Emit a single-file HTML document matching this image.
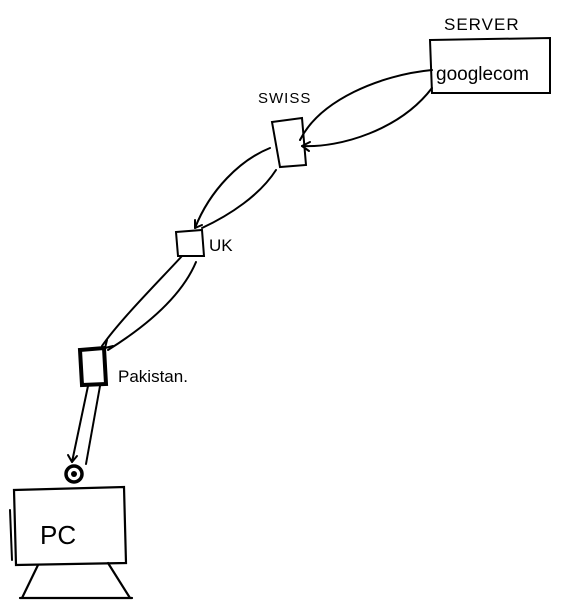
<!DOCTYPE html>
<html><head><meta charset="utf-8"><style>
html,body{margin:0;padding:0;background:#fff;}
svg{display:block;}
text{font-family:"Liberation Sans",sans-serif;fill:#000;}
</style></head><body>
<svg width="572" height="606" viewBox="0 0 572 606" xmlns="http://www.w3.org/2000/svg" fill="none" stroke="#000" stroke-width="2" stroke-linecap="round">
<!-- server -->
<text x="444" y="30" font-size="17" stroke="none" letter-spacing="1">SERVER</text>
<path d="M430 40 L550 38 L550 93 L432 93 Z"/>
<text x="436" y="80" font-size="19" stroke="none">googlecom</text>
<!-- switch -->
<text x="258" y="103" font-size="15" stroke="none" letter-spacing="1">SWISS</text>
<path d="M272 122 L302 118 L306 165 L280 167 Z"/>
<!-- UK -->
<path d="M176 232 L202 230 L204 256 L178 256 Z"/>
<text x="209" y="251" font-size="17" stroke="none">UK</text>
<!-- Pakistan -->
<path d="M80 350 L104 348 L106 384 L82 385 Z" stroke-width="4"/>
<text x="118" y="382" font-size="17" stroke="none">Pakistan.</text>
<!-- arcs server-switch -->
<path d="M432 70 C380 75 320 100 300 140"/>
<path d="M432 88 C400 130 340 148 302 146"/>
<path d="M302 146 l8 -4 M302 146 l7 5"/>
<!-- switch-UK -->
<path d="M270 148 C240 160 210 190 195 228"/>
<path d="M276 170 C260 195 230 215 202 228"/>
<path d="M195 228 l0 -8 M195 228 l7 -3"/>
<!-- UK-Pakistan -->
<path d="M182 256 C160 280 120 320 102 346"/>
<path d="M196 262 C180 300 140 330 108 350"/>
<path d="M105 348 l2 -8 M105 348 l8 -2"/>
<!-- Pakistan-circle -->
<path d="M88 386 L72 462"/>
<path d="M100 386 L86 464"/>
<path d="M72 462 l-4 -7 M72 462 l5 -6"/>
<circle cx="74" cy="474" r="8" stroke-width="3.5"/>
<circle cx="74" cy="474" r="3" fill="#000" stroke="none"/>
<!-- PC -->
<path d="M14 490 L124 487 L126 563 L16 565 Z" stroke-width="2.2"/>
<path d="M10 510 L12 560"/>
<text x="40" y="544" font-size="26" stroke="none">PC</text>
<path d="M38 565 L22 598 M108 563 L130 598 M20 598 L132 598" stroke-width="2.2"/>
</svg>
</body></html>
